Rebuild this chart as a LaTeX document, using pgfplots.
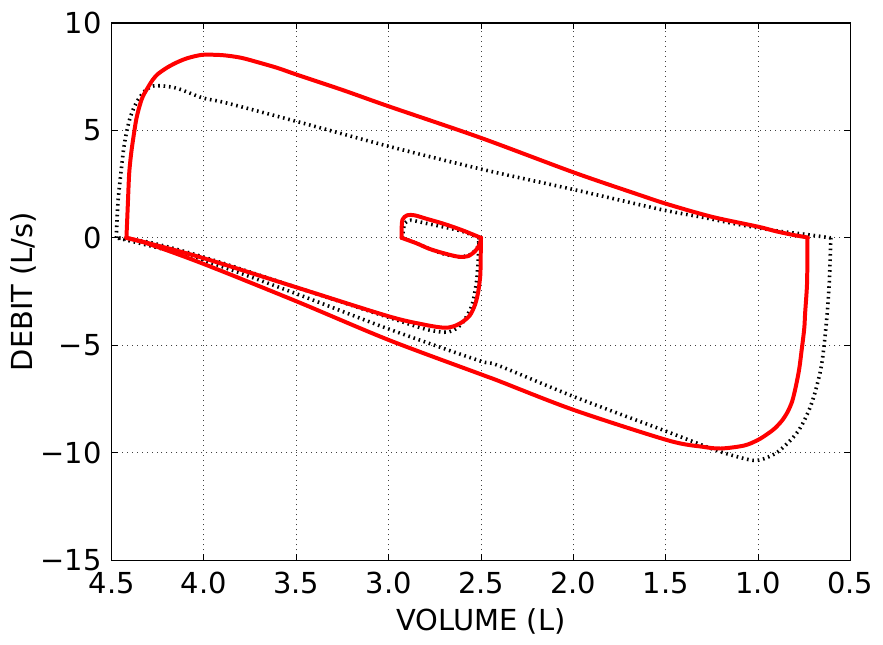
\documentclass[border=0pt]{standalone}
\usepackage{pgfplots}
\pgfplotsset{compat=1.18}
\usepackage{fontspec}
\setmainfont{DejaVu Sans}
\begin{document}
\fontsize{14.5}{17}\selectfont
\begin{tikzpicture}
\begin{axis}[scale only axis, width=370.5pt, height=269.5pt,
  x dir=reverse, xmin=0.5, xmax=4.5, ymin=-15, ymax=10,
  xtick={0.5,1,1.5,2,2.5,3,3.5,4,4.5},
  xticklabels={0.5,1.0,1.5,2.0,2.5,3.0,3.5,4.0,4.5},
  ytick={-15,-10,-5,0,5,10},
  yticklabels={−15,−10,−5,0,5,10},
  xlabel={VOLUME (L)}, ylabel={DEBIT (L/s)},
  grid=major, major grid style={black!75, line width=0.5pt, dash pattern=on 0.5pt off 2pt},
  axis line style={line width=0.6pt},
  major tick length=3pt, tick style={black, line width=0.5pt},
  tick label style={font=\fontsize{14.5}{17}\selectfont},
  label style={font=\fontsize{14.5}{17}\selectfont},
  xticklabel style={yshift=-1pt},
  ylabel style={at={(axis description cs:-0.088,0.5)}, anchor=south},
  xlabel style={yshift=2.5pt},
  clip=false,
  red/.style={color=red, line width=2pt, line cap=round, line join=round, smooth, tension=0.5},
  blk/.style={color=black, line width=1.8pt, dash pattern=on 0.8pt off 1.9pt, smooth, tension=0.5}]
% mesure (pointillés)
\addplot[blk] coordinates {
(2.51,0) (2.6,0.3) (2.7,0.5) (2.8,0.68) (2.88,0.82) (2.91,0.7) (2.92,0.4) (2.925,0)};
\addplot[blk] coordinates {
(2.925,0) (2.85,-0.25) (2.78,-0.51) (2.7,-0.75) (2.62,-0.88) (2.56,-0.78) (2.52,-0.45) (2.51,0)};
\addplot[blk] coordinates {
(2.51,0) (2.515,-1.0) (2.525,-2.07) (2.55,-3.16) (2.6,-3.95) (2.65,-4.3) (2.7,-4.39) (2.8,-4.25)
(3.0,-3.7) (3.5,-2.3) (4.0,-0.9) (4.3,-0.2) (4.475,0)};
\addplot[blk] coordinates {
(4.475,0) (4.466,1.63) (4.448,3.18) (4.43,4.42) (4.403,5.5) (4.367,6.28) (4.313,6.9) (4.259,7.08)
(4.151,6.97) (4.007,6.51) (3.88,6.28) (3.5,5.42) (3.0,4.26) (2.5,3.2) (2.0,2.25)
(1.65,1.56) (1.488,1.25) (1.29,0.94) (1.11,0.63) (0.894,0.32) (0.75,0.17) (0.606,0.0)};
\addplot[blk] coordinates {
(0.606,0.0) (0.615,-2.2) (0.633,-4.24) (0.66,-6.1) (0.714,-7.8) (0.786,-9.03) (0.894,-9.96)
(1.002,-10.35) (1.11,-10.19) (1.254,-9.8) (1.488,-9.03) (1.99,-7.41) (2.406,-5.94)
(2.514,-5.7) (3.0,-4.24) (3.5,-2.6) (4.0,-1.05) (4.33,-0.29) (4.475,0)};
% modèle
\addplot[red] coordinates {
(2.5,0) (2.6,0.35) (2.7,0.65) (2.8,0.9) (2.86,1.05) (2.9,1.05) (2.925,0.85) (2.93,0.4) (2.93,0)};
\addplot[red] coordinates {
(2.93,0) (2.85,-0.25) (2.78,-0.51) (2.7,-0.72) (2.62,-0.88) (2.57,-0.85) (2.53,-0.6) (2.505,-0.25) (2.5,0)};
\addplot[red] coordinates {
(2.5,0) (2.502,-1.0) (2.504,-1.76) (2.515,-2.5) (2.532,-3.1) (2.56,-3.6) (2.604,-3.93) (2.65,-4.12)
(2.7,-4.18) (2.8,-4.05) (3.0,-3.65) (3.5,-2.3) (4.0,-0.95) (4.3,-0.25) (4.42,0)};
\addplot[red] coordinates {
(4.42,0) (4.415,1.0) (4.412,1.63) (4.405,3.0) (4.394,3.95) (4.38,4.8) (4.367,5.5) (4.35,6.1)
(4.331,6.58) (4.3,7.05) (4.277,7.36) (4.25,7.62) (4.2,7.92) (4.15,8.15) (4.1,8.33) (4.05,8.45) (4.0,8.52)
(3.9,8.5) (3.8,8.38) (3.7,8.15) (3.6,7.9) (3.5,7.6) (3.25,6.88) (3.0,6.12) (2.5,4.65) (2.0,3.05)
(1.65,2.02) (1.488,1.56) (1.25,0.98) (1.0,0.52) (0.9,0.3) (0.8,0.12) (0.733,0.02) (0.733,0)};
\addplot[red] coordinates {
(0.733,0) (0.733,-1.0) (0.735,-2.2) (0.745,-3.5) (0.75,-4.24) (0.765,-5.3) (0.777,-6.1) (0.795,-6.9)
(0.815,-7.6) (0.84,-8.1) (0.87,-8.5) (0.91,-8.87) (0.95,-9.13) (1.0,-9.4) (1.074,-9.66) (1.2,-9.8)
(1.3,-9.72) (1.488,-9.42) (2.0,-8.0) (2.406,-6.65) (2.5,-6.35) (3.0,-4.75) (3.5,-2.95)
(4.0,-1.22) (4.3,-0.28) (4.42,0)};
\end{axis}
\path ([xshift=-56pt,yshift=-34pt]current axis.south west) rectangle ([xshift=15pt,yshift=11.5pt]current axis.north east);
\end{tikzpicture}
\end{document}
